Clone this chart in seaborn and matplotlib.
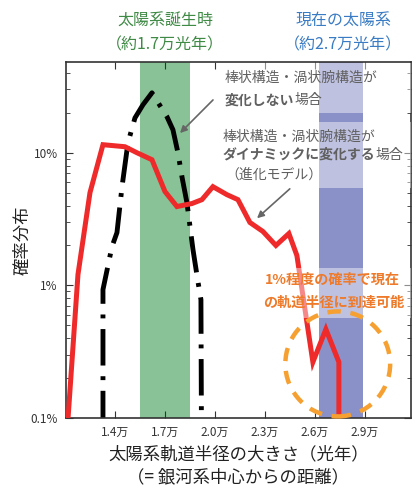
import numpy as np
import pandas as pd
import seaborn as sns
import matplotlib.pyplot as plt
from matplotlib.patches import Ellipse, Rectangle
from matplotlib.ticker import FixedLocator, NullFormatter

# data: radius in units of 万 light-years, probability in %
red_x = [1.118, 1.178, 1.25, 1.328, 1.46, 1.532, 1.622, 1.70, 1.772, 1.862, 1.922,
         1.988, 2.072, 2.138, 2.21, 2.288, 2.366, 2.444, 2.492, 2.588, 2.666, 2.744, 2.744]
red_y = [0.098, 1.21, 5.0, 11.5, 11.1, 10.0, 8.86, 5.1, 3.93, 4.14, 4.43,
         5.55, 4.83, 4.43, 2.98, 2.55, 2.0, 2.46, 1.68, 0.264, 0.467, 0.264, 0.05]

black_x = [1.328, 1.328, 1.382, 1.412, 1.442, 1.478, 1.52, 1.568, 1.622, 1.712,
           1.748, 1.778, 1.802, 1.832, 1.868, 1.898, 1.916, 1.922]
black_y = [0.01, 0.93, 1.96, 2.5, 5.5, 11.9, 18.3, 23.0, 28.3, 18.7,
           14.9, 10.0, 6.6, 4.2, 1.87, 1.07, 0.78, 0.01]

birth_band = [1.55, 1.85]
now_band = [2.625, 2.89]

xticks = [1.4, 1.7, 2.0, 2.3, 2.6, 2.9]
xtick_labels = ['1.4万', '1.7万', '2.0万', '2.3万', '2.6万', '2.9万']
yticks = [0.1, 1, 10]
ytick_labels = ['0.1%', '1%', '10%']

sns.set_style('ticks')
plt.rcParams['font.family'] = ['Noto Sans CJK JP', 'DejaVu Sans']

fig = plt.figure(figsize=(4.15, 4.88), dpi=100)
ax = fig.add_axes([0.159, 0.1434, 0.831, 0.7295])

ax.axvspan(*birth_band, color='#88c296', lw=0, zorder=0)
ax.axvspan(*now_band, color='#8a90c8', lw=0, zorder=0)

red = pd.DataFrame({'x': red_x, 'y': red_y})
black = pd.DataFrame({'x': black_x, 'y': black_y})
sns.lineplot(data=black, x='x', y='y', sort=False, estimator=None, ax=ax,
             color='black', lw=3.5, linestyle=(0, (7.5, 2.2, 0.8, 2.2)), zorder=2)
sns.lineplot(data=red, x='x', y='y', sort=False, estimator=None, ax=ax,
             color='#ee2a2a', lw=3.6, zorder=3, solid_joinstyle='miter')

ax.set_yscale('log')
ax.set_xlim(1.106, 3.176)
ax.set_ylim(0.1, 48.3)
ax.set_xticks(xticks)
ax.set_xticklabels(xtick_labels)
ax.yaxis.set_major_locator(FixedLocator(yticks))
ax.set_yticklabels(ytick_labels)
ax.yaxis.set_minor_formatter(NullFormatter())
ax.set_xlabel('')
ax.set_ylabel('')
ax.tick_params(which='both', direction='in', top=True, right=True,
               labelsize=8.5, colors='#333333', pad=6)
ax.tick_params(which='major', length=5)
ax.tick_params(which='minor', length=3)
for s in ax.spines.values():
    s.set_color('#333333')
    s.set_linewidth(1.2)

# translucent white boxes behind the notes
for y0, y1, x0 in [(0.857, 0.997, 0.45), (0.646, 0.831, 0.45), (0.281, 0.421, 0.565)]:
    ax.add_patch(Rectangle((x0, y0), 1.0 - x0, y1 - y0, transform=ax.transAxes,
                           facecolor='white', alpha=0.45, lw=0, zorder=4))

ax.add_patch(Ellipse((0.788, 0.152), 0.304, 0.295, transform=ax.transAxes,
                     fill=False, edgecolor='#f5a030', lw=3.2,
                     linestyle=(0, (3, 2.2)), zorder=5, clip_on=False))

gray = '#606060'
fs = 10
ax.text(0.461, 0.955, '棒状構造・渦状腕構造が', transform=ax.transAxes,
        fontsize=fs, color=gray, va='center', zorder=6)
t1 = ax.text(0.461, 0.893, '変化しない', transform=ax.transAxes, fontsize=fs,
             color=gray, va='center', fontweight='bold', zorder=6)
ax.annotate('場合', xy=(1, 0), xycoords=t1, va='bottom', fontsize=fs,
            color=gray, zorder=6)

ax.text(0.455, 0.789, '棒状構造・渦状腕構造が', transform=ax.transAxes,
        fontsize=fs, color=gray, va='center', zorder=6)
t2 = ax.text(0.455, 0.739, 'ダイナミックに変化する', transform=ax.transAxes,
             fontsize=fs, color=gray, va='center', fontweight='bold', zorder=6)
ax.annotate('場合', xy=(1, 0), xycoords=t2, va='bottom', fontsize=fs,
            color=gray, zorder=6, annotation_clip=False)
ax.text(0.462, 0.683, '（進化モデル）', transform=ax.transAxes,
        fontsize=fs, color=gray, va='center', zorder=6)

arrow = dict(arrowstyle='-|>', color='#666666', lw=1.2, mutation_scale=10)
ax.annotate('', xy=(0.325, 0.795), xytext=(0.432, 0.899),
            xycoords='axes fraction', arrowprops=arrow, zorder=6)
ax.annotate('', xy=(0.548, 0.556), xytext=(0.655, 0.649),
            xycoords='axes fraction', arrowprops=arrow, zorder=6)

orange = '#ee7a2a'
ax.text(0.578, 0.388, '1%程度の確率で現在', transform=ax.transAxes,
        fontsize=10.2, color=orange, fontweight='bold', va='center',
        zorder=6, clip_on=False)
ax.text(0.572, 0.323, 'の軌道半径に到達可能', transform=ax.transAxes,
        fontsize=10.2, color=orange, fontweight='bold', va='center',
        zorder=6, clip_on=False)

green = '#3f8a45'
blue = '#3a7cc4'
fig.text(0.398, 0.957, '太陽系誕生時', ha='center', va='center', fontsize=11.5, color=green)
fig.text(0.398, 0.908, '（約1.7万光年）', ha='center', va='center', fontsize=11.5, color=green)
fig.text(0.827, 0.957, '現在の太陽系', ha='center', va='center', fontsize=11.5, color=blue)
fig.text(0.827, 0.908, '（約2.7万光年）', ha='center', va='center', fontsize=11.5, color=blue)

fig.text(0.053, 0.508, '確率分布', rotation=90, ha='center', va='center',
         fontsize=12.5, color='#222222')
fig.text(0.574, 0.068, '太陽系軌道半径の大きさ（光年）', ha='center', va='center',
         fontsize=12.5, color='#222222')
fig.text(0.574, 0.0225, '（= 銀河系中心からの距離）', ha='center', va='center',
         fontsize=12.5, color='#222222')

fig.savefig('out.png', dpi=100)
